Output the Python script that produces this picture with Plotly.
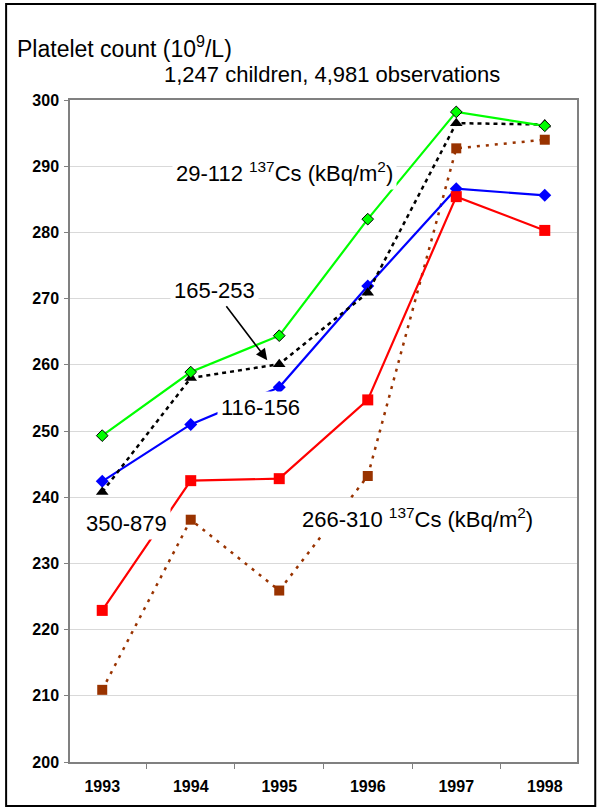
import plotly.graph_objects as go

years = ["1993", "1994", "1995", "1996", "1997", "1998"]
cs_29_112 = [249.3, 258.9, 264.4, 282.0, 298.2, 296.1]
cs_165_253 = [240.8, 258.0, 260.1, 270.9, 296.5, 296.3]
cs_116_156 = [242.4, 251.0, 256.6, 271.9, 286.6, 285.6]
cs_350_879 = [222.9, 242.5, 242.8, 254.7, 285.4, 280.3]
cs_266_310 = [210.9, 236.6, 225.9, 243.2, 292.7, 294.0]

y_ticks = [200, 210, 220, 230, 240, 250, 260, 270, 280, 290, 300]

FONT = "Arial, 'Liberation Sans', sans-serif"

fig = go.Figure()

fig.add_trace(go.Scatter(
    x=years, y=cs_266_310, mode="lines+markers", name="266-310",
    line=dict(color="#993300", width=2.5, dash="3px,6px"),
    marker=dict(symbol="square", size=10, color="#993300"),
))
fig.add_trace(go.Scatter(
    x=years, y=cs_116_156, mode="lines+markers", name="116-156",
    line=dict(color="#0000ff", width=2.2),
    marker=dict(symbol="diamond", size=10, color="#0000ff"),
))
fig.add_trace(go.Scatter(
    x=years, y=cs_350_879, mode="lines+markers", name="350-879",
    line=dict(color="#ff0000", width=2.2),
    marker=dict(symbol="square", size=11, color="#ff0000"),
))
fig.add_trace(go.Scatter(
    x=years, y=cs_165_253, mode="lines+markers", name="165-253",
    line=dict(color="#000000", width=2.5, dash="4px,4px"),
    marker=dict(symbol="triangle-up", size=11, color="#000000"),
))
fig.add_trace(go.Scatter(
    x=years, y=cs_29_112, mode="lines+markers", name="29-112",
    line=dict(color="#00ff00", width=2.2),
    marker=dict(symbol="diamond", size=9, color="#00ff00",
                line=dict(color="#000000", width=1)),
))

label_font = dict(family=FONT, size=22, color="#000000")

annotations = [
    dict(text="Platelet count (10<sup>9</sup>/L)", xref="paper", yref="paper",
         x=-0.108, y=1.080, xanchor="left", yanchor="middle", showarrow=False,
         font=dict(family=FONT, size=23, color="#000000")),
    dict(text="1,247 children, 4,981 observations", xref="paper", yref="paper",
         x=0.852, y=1.038, xanchor="right", yanchor="middle", showarrow=False,
         font=dict(family=FONT, size=22, color="#000000")),
    dict(text="29-112 <sup>137</sup>Cs (kBq/m<sup>2</sup>)", xref="paper", yref="y",
         x=0.424, y=289.1, xanchor="center", yanchor="middle", showarrow=False,
         bgcolor="white", borderpad=3, font=label_font),
    dict(text="165-253", xref="paper", yref="y",
         x=0.389, y=260.7, ax=-53, ay=-70, showarrow=True,
         arrowhead=2, arrowsize=1.4, arrowwidth=1.6, arrowcolor="#000000",
         bgcolor="white", borderpad=3, font=label_font),
    dict(text="116-156", xref="paper", yref="y",
         x=0.375, y=253.6, xanchor="center", yanchor="middle", showarrow=False,
         bgcolor="white", borderpad=3, font=label_font),
    dict(text="350-879", xref="paper", yref="y",
         x=0.111, y=236.1, xanchor="center", yanchor="middle", showarrow=False,
         bgcolor="white", borderpad=3, font=label_font),
    dict(text="266-310 <sup>137</sup>Cs (kBq/m<sup>2</sup>)", xref="paper", yref="y",
         x=0.686, y=236.9, xanchor="center", yanchor="middle", showarrow=False,
         bgcolor="white", borderpad=3, font=label_font),
]

fig.update_layout(
    width=600, height=809,
    margin=dict(l=70, r=23, t=100, b=47),
    paper_bgcolor="white", plot_bgcolor="white",
    showlegend=False,
    font=dict(family=FONT, color="#000000"),
    annotations=annotations,
    shapes=[dict(type="rect", xref="paper", yref="paper",
                 x0=-0.126, x1=1.036, y0=-0.0665, y1=1.145,
                 line=dict(color="#000000", width=2), layer="above")],
)

fig.update_xaxes(
    type="category", tickson="boundaries", ticks="outside", ticklen=5,
    tickcolor="#808080", showline=True, linecolor="#808080", linewidth=1.5,
    mirror=True, showgrid=False, ticklabelstandoff=9,
    tickfont=dict(family=FONT, size=16, color="#000000", weight="bold"),
)
fig.update_yaxes(
    range=[200, 300], tickvals=y_ticks, ticks="outside", ticklen=4,
    tickcolor="#808080", showline=True, linecolor="#808080", linewidth=1.5,
    mirror=True, showgrid=True, gridcolor="#d9d9d9", gridwidth=1,
    zeroline=False, ticklabelstandoff=2,
    tickfont=dict(family=FONT, size=16, color="#000000", weight="bold"),
)

fig.write_html("out.html", config={"displayModeBar": False},
               post_script="document.body.style.margin='0';document.body.style.padding='0';")
